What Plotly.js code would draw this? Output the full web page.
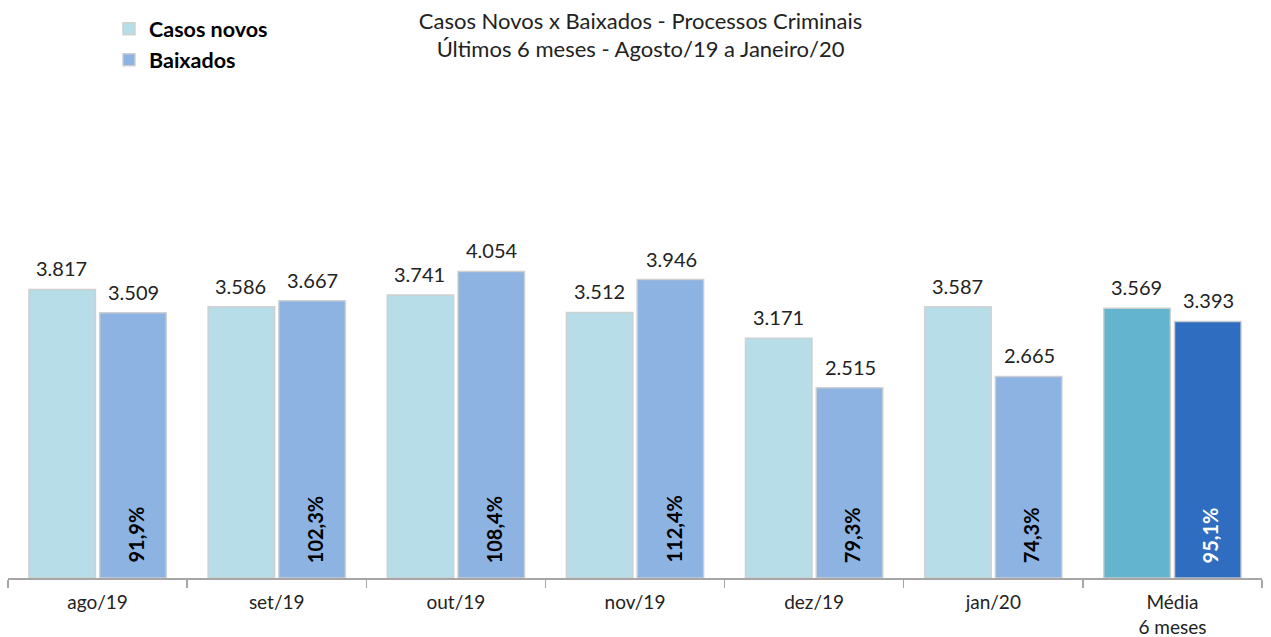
<!DOCTYPE html>
<html>
<head>
<meta charset="utf-8">
<script src="https://cdn.plot.ly/plotly-3.0.1.min.js"></script>
<style>html,body{margin:0;padding:0;background:#fff;}#chart{width:1271px;height:637px;}</style>
</head>
<body>
<div id="chart"></div>
<script>
const categories = ['ago/19', 'set/19', 'out/19', 'nov/19', 'dez/19', 'jan/20', 'Média<br>6 meses'];
const casosNovos = [3817, 3586, 3741, 3512, 3171, 3587, 3569];
const baixados = [3509, 3667, 4054, 3946, 2515, 2665, 3393];
const percentLabels = ['91,9%', '102,3%', '108,4%', '112,4%', '79,3%', '74,3%', '95,1%'];

const casosColors = categories.map((c, i) => i === categories.length - 1 ? '#63B4CF' : '#B7DEE8');
const baixadosColors = categories.map((c, i) => i === categories.length - 1 ? '#2E6DBF' : '#8DB3E2');
const pctColors = categories.map((c, i) => i === categories.length - 1 ? '#ffffff' : '#000000');

const fmt = v => v.toLocaleString('de-DE');
const FONT = 'Lato, "Open Sans", sans-serif';

const traces = [
  {
    type: 'bar', name: 'Casos novos', x: categories, y: casosNovos,
    marker: {color: casosColors, line: {color: 'rgba(205,205,205,0.9)', width: 1.5}},
    hoverinfo: 'none'
  },
  {
    type: 'bar', name: 'Baixados', x: categories, y: baixados,
    marker: {color: baixadosColors, line: {color: 'rgba(205,205,205,0.9)', width: 1.5}},
    hoverinfo: 'none'
  }
];

const annotations = [];
categories.forEach((c, i) => {
  annotations.push({x: c, y: casosNovos[i], xref: 'x', yref: 'y', text: fmt(casosNovos[i]),
    showarrow: false, yanchor: 'bottom', xshift: -36, yshift: 7,
    font: {family: FONT, size: 20, color: '#222'}});
  annotations.push({x: c, y: baixados[i], xref: 'x', yref: 'y', text: fmt(baixados[i]),
    showarrow: false, yanchor: 'bottom', xshift: 36, yshift: 7,
    font: {family: FONT, size: 20, color: '#222'}});
  annotations.push({x: c, y: 0, xref: 'x', yref: 'y', text: '<b>' + percentLabels[i] + '</b>',
    showarrow: false, yanchor: 'bottom', xshift: 38, yshift: 13, textangle: -90,
    font: {family: FONT, size: 20, color: pctColors[i]}});
});

const layout = {
  width: 1271, height: 637,
  paper_bgcolor: '#fff', plot_bgcolor: '#fff',
  margin: {l: 8, r: 9, t: 100, b: 59},
  font: {family: FONT, color: '#222'},
  title: {
    text: 'Casos Novos x Baixados - Processos Criminais<br>Últimos 6 meses - Agosto/19 a Janeiro/20',
    x: 0.504, xanchor: 'center', y: 0.955, yanchor: 'top',
    font: {family: FONT, size: 22, color: '#222'}
  },
  barmode: 'group', bargap: 0.21, bargroupgap: 0.06,
  showlegend: true,
  legend: {
    x: (109 - 8) / 1254, xref: 'paper', xanchor: 'left', y: 1 + 94 / 478, yref: 'paper', yanchor: 'top',
    font: {family: FONT, size: 21.5, color: '#000', weight: 'bold'},
    bgcolor: 'rgba(0,0,0,0)', tracegroupgap: 0
  },
  xaxis: {
    type: 'category', showgrid: false, zeroline: false,
    showline: true, linecolor: '#A6A6A6', linewidth: 1.5,
    ticks: 'outside', tickson: 'boundaries', ticklen: 8, tickcolor: '#A6A6A6', tickwidth: 1.5,
    ticklabelstandoff: 7,
    tickfont: {family: FONT, size: 19, color: '#222'},
    fixedrange: true
  },
  yaxis: {
    range: [0, 6295], visible: false, showgrid: false, zeroline: false, fixedrange: true
  },
  annotations: annotations
};

Plotly.newPlot('chart', traces, layout, {displayModeBar: false, staticPlot: true});
</script>
</body>
</html>
